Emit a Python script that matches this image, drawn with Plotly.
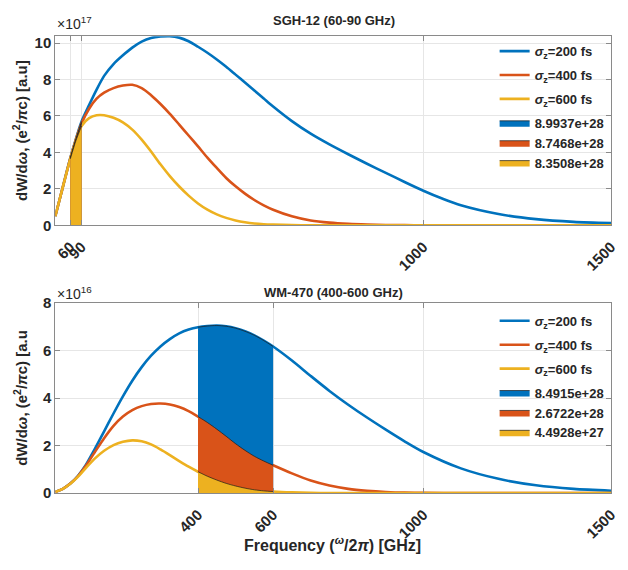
import plotly.graph_objects as go

# ---------------- data ----------------
freq_top = [20, 40, 60, 75, 90, 110, 130, 150, 175, 200, 225, 250, 275, 300, 325, 350,
            375, 400, 425, 450, 475, 500, 525, 550, 575, 600, 650, 700, 750, 800, 850, 900, 950, 1000,
            1050, 1100, 1200, 1300, 1400, 1500]
blue_top = [0.5, 2.1, 3.7, 4.75, 5.7, 6.6, 7.45, 8.2, 8.85, 9.33, 9.75, 10.08, 10.28, 10.36, 10.38, 10.3,
            10.1, 9.8, 9.47, 9.1, 8.7, 8.27, 7.84, 7.4, 6.96, 6.52, 5.72, 5.03, 4.44, 3.9, 3.38, 2.88, 2.38, 1.9,
            1.47, 1.1, 0.62, 0.34, 0.19, 0.12]
orange_top = [0.5, 2.1, 3.68, 4.72, 5.6, 6.4, 6.95, 7.28, 7.53, 7.67, 7.71, 7.53, 7.14, 6.66, 6.12, 5.53,
              4.93, 4.33, 3.72, 3.15, 2.6, 2.14, 1.74, 1.39, 1.1, 0.86, 0.5, 0.27, 0.15, 0.08, 0.04, 0.02, 0.01, 0.0,
              0.0, 0.0, 0.0, 0.0, 0.0, 0.0]
yellow_top = [0.5, 2.1, 3.65, 4.65, 5.45, 5.88, 6.04, 6.04, 5.9, 5.65, 5.25, 4.7, 4.05, 3.35, 2.7, 2.13,
              1.63, 1.2, 0.86, 0.6, 0.41, 0.27, 0.17, 0.1, 0.06, 0.04, 0.015, 0.005, 0.0, 0.0, 0.0, 0.0, 0.0, 0.0,
              0.0, 0.0, 0.0, 0.0, 0.0, 0.0]

freq_bot = [20, 40, 60, 80, 100, 125, 150, 175, 200, 225, 250, 275, 300, 325, 350, 375,
            400, 425, 450, 475, 500, 525, 550, 575, 600, 650, 700, 750, 800, 850, 900, 950,
            1000, 1100, 1200, 1300, 1400, 1500]
blue_bot = [0.05, 0.18, 0.4, 0.72, 1.15, 1.85, 2.6, 3.35, 4.07, 4.73, 5.3, 5.78, 6.17, 6.48, 6.72, 6.88,
            6.98, 7.03, 7.05, 7.02, 6.94, 6.81, 6.64, 6.42, 6.17, 5.58, 4.93, 4.3, 3.72, 3.18, 2.67, 2.18,
            1.73, 1.04, 0.6, 0.33, 0.18, 0.1]
orange_bot = [0.05, 0.18, 0.4, 0.71, 1.12, 1.72, 2.31, 2.83, 3.22, 3.49, 3.66, 3.75, 3.77, 3.73, 3.62, 3.45,
              3.22, 2.97, 2.69, 2.39, 2.08, 1.8, 1.55, 1.35, 1.17, 0.83, 0.53, 0.32, 0.18, 0.1, 0.05, 0.02,
              0.01, 0.0, 0.0, 0.0, 0.0, 0.0]
yellow_bot = [0.05, 0.18, 0.39, 0.68, 1.03, 1.45, 1.78, 2.02, 2.16, 2.22, 2.18, 2.05, 1.84, 1.6, 1.35, 1.11,
              0.9, 0.71, 0.55, 0.41, 0.3, 0.21, 0.14, 0.095, 0.065, 0.03, 0.012, 0.005, 0.0, 0.0, 0.0, 0.0,
              0.0, 0.0, 0.0, 0.0, 0.0, 0.0]

series_names = ["<i>σ</i><sub>z</sub>=200 fs", "<i>σ</i><sub>z</sub>=400 fs", "<i>σ</i><sub>z</sub>=600 fs"]
band_top = (60, 90)
band_bot = (400, 600)
area_labels_top = ["8.9937e+28", "8.7468e+28", "8.3508e+28"]
area_labels_bot = ["8.4915e+28", "2.6722e+28", "4.4928e+27"]

xticks_top = [60, 90, 1000, 1500]
xticks_bot = [400, 600, 1000, 1500]
yticks_top = [0, 2, 4, 6, 8, 10]
yticks_bot = [0, 2, 4, 6, 8]

colors = ["#0072BD", "#D95319", "#EDB120"]

# ---------------- figure ----------------
W, H = 628, 570
fig = go.Figure()


def px_x(p):
    return p / W


def px_y(p):
    return (H - p) / H


def add_panel(freq, curves, band, area_labels, xa, ya, leg):
    for i, (c, vals, nm) in enumerate(zip(colors, curves, series_names)):
        fig.add_trace(go.Scatter(x=freq, y=vals, mode="lines", name=nm,
                                 line=dict(color=c, width=2.6, shape="spline", smoothing=0.8),
                                 xaxis=xa, yaxis=ya, legend=leg, legendgroup=f"{leg}_line{i}"))
    for c, vals, lab in zip(colors, curves, area_labels):
        bx = [f for f in freq if band[0] <= f <= band[1]]
        by = [v for f, v in zip(freq, vals) if band[0] <= f <= band[1]]
        fig.add_trace(go.Scatter(x=bx, y=by, mode="lines", name=lab, fill="tozeroy",
                                 fillcolor=c,
                                 line=dict(color="#1a1a1a", width=0.7, shape="spline", smoothing=0.8),
                                 xaxis=xa, yaxis=ya, legend=leg, legendgroup=f"{leg}_fill"))


add_panel(freq_top, [blue_top, orange_top, yellow_top], band_top, area_labels_top, "x", "y", "legend")
add_panel(freq_bot, [blue_bot, orange_bot, yellow_bot], band_bot, area_labels_bot, "x2", "y2", "legend2")

FAM = "Liberation Sans, Arial, sans-serif"
tickfont = dict(family=FAM, size=15, color="#262626", weight="bold")
axcommon = dict(showgrid=True, gridcolor="#e6e6e6", gridwidth=1, showline=True, linecolor="#8a8a8a",
                linewidth=1, mirror="ticks", ticks="inside", ticklen=5, tickcolor="#8a8a8a",
                zeroline=False, tickfont=tickfont)
xextra = dict(tickangle=-45, ticklabelstandoff=6)

xdom = [px_x(55), px_x(618)]
legfont = dict(family=FAM, size=13, color="#262626", weight="bold")
fig.update_layout(
    width=W, height=H, margin=dict(l=0, r=0, t=0, b=0),
    paper_bgcolor="white", plot_bgcolor="white",
    font=dict(family=FAM, color="#262626"),
    xaxis=dict(domain=xdom, anchor="y", range=[20, 1500], tickmode="array",
               tickvals=xticks_top, ticktext=[str(v) for v in xticks_top], **xextra, **axcommon),
    yaxis=dict(domain=[px_y(223), px_y(28)], anchor="x", range=[0, 10.38], tickmode="array",
               tickvals=yticks_top, **axcommon),
    xaxis2=dict(domain=xdom, anchor="y2", range=[20, 1500], tickmode="array",
                tickvals=xticks_bot, ticktext=[str(v) for v in xticks_bot], **xextra, **axcommon),
    yaxis2=dict(domain=[px_y(499), px_y(303)], anchor="x2", range=[0, 8], tickmode="array",
                tickvals=yticks_bot, **axcommon),
    legend=dict(x=px_x(500), y=px_y(28), xanchor="left", yanchor="top", bgcolor="rgba(0,0,0,0)",
                font=legfont, tracegroupgap=4, itemwidth=30, traceorder="grouped"),
    legend2=dict(x=px_x(500), y=px_y(306), xanchor="left", yanchor="top", bgcolor="rgba(0,0,0,0)",
                 font=legfont, tracegroupgap=4, itemwidth=30, traceorder="grouped"),
    showlegend=True,
)

ann_font_b = dict(family=FAM, size=13, color="#262626", weight="bold")
ylab_font = dict(family=FAM, size=15, color="#262626", weight="bold")
expo_font = dict(family=FAM, size=14, color="#262626")


def ann(text, x, y, font, xanchor="center", angle=0):
    return dict(text=text, x=px_x(x), y=px_y(y), xref="paper", yref="paper", showarrow=False,
                xanchor=xanchor, yanchor="middle", textangle=angle, font=font)


annotations = [
    ann("SGH-12 (60-90 GHz)", 337, 12, ann_font_b),
    ann("WM-470 (400-600 GHz)", 337, 292, ann_font_b),
    ann("×10<sup>17</sup>", 55, 14, expo_font, xanchor="left"),
    ann("×10<sup>16</sup>", 55, 293, expo_font, xanchor="left"),
    ann("dW/d<i>ω</i>, (e<sup>2</sup>/<i>π</i>c) [a.u]", 19, 125, ylab_font, angle=-90),
    ann("dW/d<i>ω</i>, (e<sup>2</sup>/<i>π</i>c) [a.u", 19, 401, ylab_font, angle=-90),
    ann("Frequency (<sup><i>ω</i></sup>/2<i>π</i>) [GHz]", 336, 551,
        dict(family=FAM, size=16, color="#262626", weight="bold")),
]
fig.update_layout(annotations=annotations)

post = ("var gd=document.getElementById('{plot_id}');"
        "gd.style.position='fixed';gd.style.top='0px';gd.style.left='0px';"
        "document.documentElement.style.overflow='hidden';"
        "document.body.style.margin='0';document.body.style.overflow='hidden';")

fig.write_html("out.html", config={"displayModeBar": False}, post_script=post)
